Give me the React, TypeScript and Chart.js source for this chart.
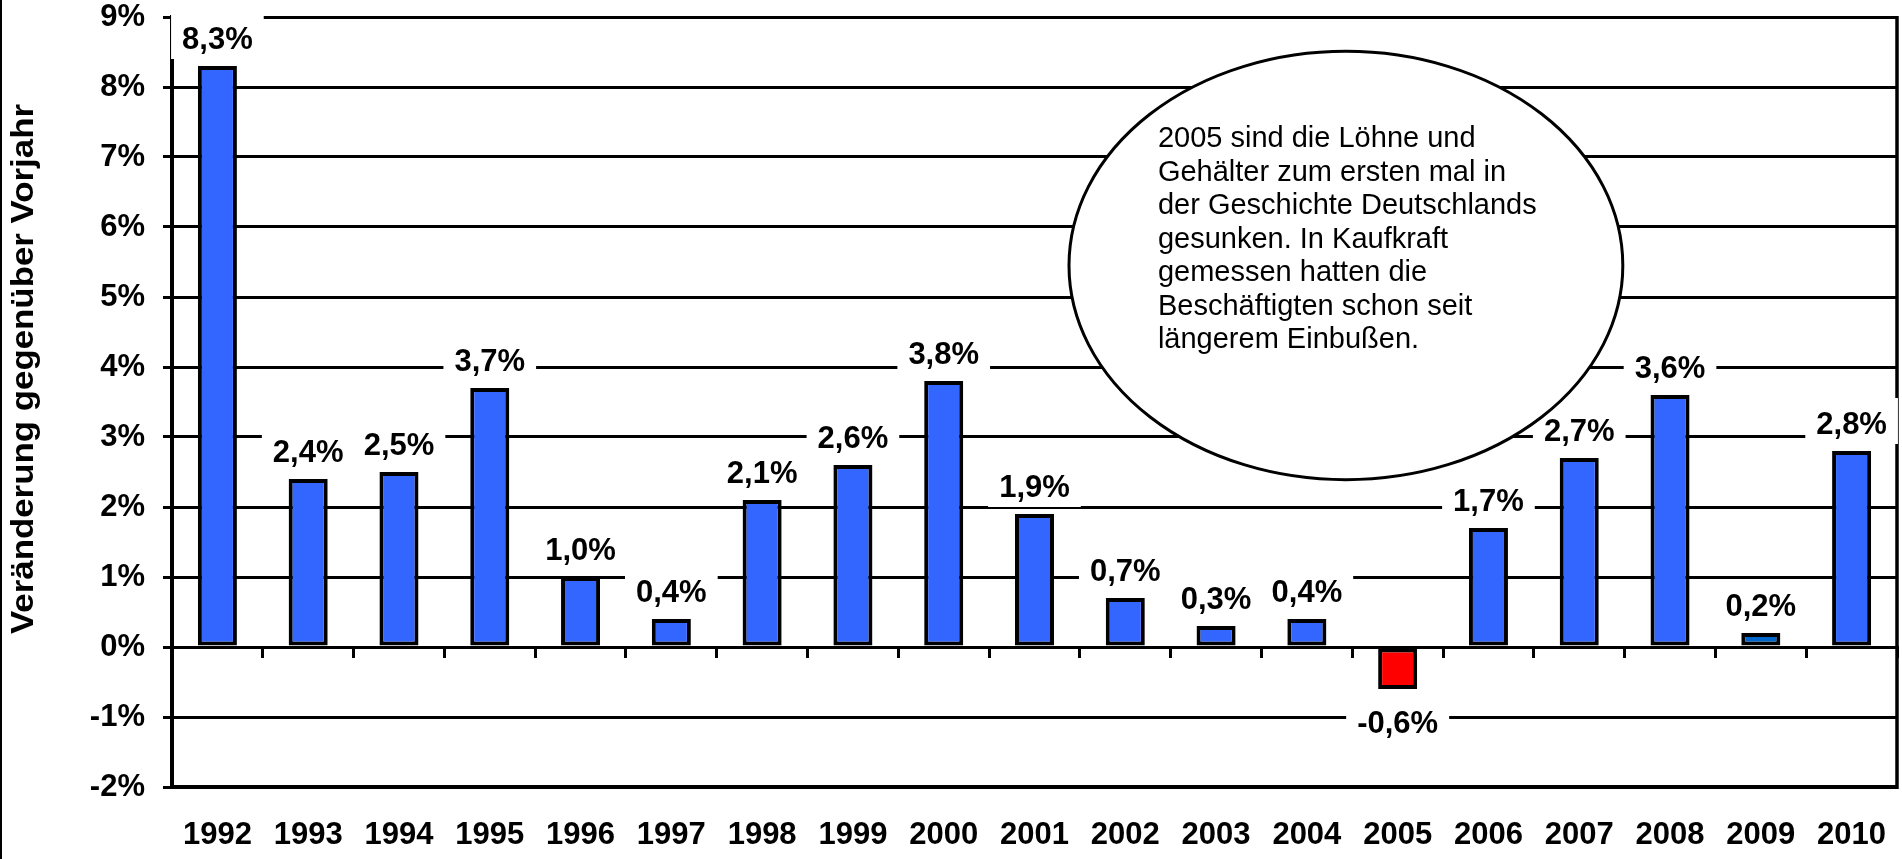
import React, { useEffect, useRef } from 'react';
import { Chart, registerables } from 'chart.js';

Chart.register(...registerables);

// ---- data ----
const years = ['1992', '1993', '1994', '1995', '1996', '1997', '1998', '1999', '2000', '2001', '2002', '2003', '2004', '2005', '2006', '2007', '2008', '2009', '2010'];
const changes = [8.3, 2.4, 2.5, 3.7, 1.0, 0.4, 2.1, 2.6, 3.8, 1.9, 0.7, 0.3, 0.4, -0.6, 1.7, 2.7, 3.6, 0.2, 2.8];
const yMin = -2;
const yMax = 9;
const yAxisTitle = 'Veränderung gegenüber Vorjahr';
const noteLines = [
  '2005 sind die Löhne und',
  'Gehälter zum ersten mal in',
  'der Geschichte Deutschlands',
  'gesunken. In Kaufkraft',
  'gemessen hatten die',
  'Beschäftigten schon seit',
  'längerem Einbußen.',
];
// note ellipse placed in data units (category index, percent)
const noteCenterIndex = 12.43;
const noteCenterValue = 5.45;
const noteRadiusCategories = 3.05;
const noteRadiusPercent = 3.06;

// ---- style ----
const BLUE = '#3366FF';
const highlight: Record<string, string> = { '2005': '#FF0000', '2009': '#0066CC' };
const FONT = '"Liberation Sans", Arial, Helvetica, sans-serif';

const fmt = (v: number) => v.toFixed(1).replace('.', ',') + '%';

const decorPlugin = {
  id: 'decor',
  beforeDatasetsDraw(chart: any) {
    const { ctx, chartArea } = chart;
    ctx.save();
    ctx.strokeStyle = '#000';
    ctx.lineWidth = 3.5;
    ctx.beginPath();
    ctx.moveTo(chartArea.right, chartArea.top - 1);
    ctx.lineTo(chartArea.right, chartArea.bottom + 2);
    ctx.stroke();
    ctx.lineWidth = 2;
    ctx.beginPath();
    ctx.moveTo(1, 0);
    ctx.lineTo(1, chart.height);
    ctx.stroke();
    ctx.restore();
  },
  afterDatasetsDraw(chart: any) {
    const { ctx } = chart;
    const meta = chart.getDatasetMeta(0);
    ctx.save();
    ctx.font = `bold 31px ${FONT}`;
    ctx.textAlign = 'center';
    ctx.textBaseline = 'alphabetic';
    meta.data.forEach((bar: any, i: number) => {
      const v = changes[i];
      const text = fmt(v);
      const w = ctx.measureText(text).width;
      const { x, y } = bar.getProps(['x', 'y'], true);
      const baseline = v >= 0 ? y - 17 : y + 44;
      ctx.fillStyle = '#fff';
      ctx.fillRect(x - w / 2 - 11, baseline - 36, w + 22, 46);
      ctx.fillStyle = '#000';
      ctx.fillText(text, x, baseline);
    });
    ctx.restore();
  },
  afterDraw(chart: any) {
    const { ctx } = chart;
    const xs = chart.scales.x;
    const ys = chart.scales.y;
    const cw = (xs.right - xs.left) / years.length;
    const cx = xs.left + (noteCenterIndex + 0.5) * cw;
    const cy = ys.getPixelForValue(noteCenterValue);
    const rx = noteRadiusCategories * cw;
    const ry = ys.getPixelForValue(0) - ys.getPixelForValue(noteRadiusPercent);
    ctx.save();
    ctx.beginPath();
    ctx.ellipse(cx, cy, rx, ry, 0, 0, Math.PI * 2);
    ctx.fillStyle = '#fff';
    ctx.fill();
    ctx.lineWidth = 3;
    ctx.strokeStyle = '#000';
    ctx.stroke();
    ctx.fillStyle = '#000';
    ctx.font = `29px ${FONT}`;
    ctx.textAlign = 'left';
    ctx.textBaseline = 'alphabetic';
    const textTop = ys.getPixelForValue(noteCenterValue + 1.69);
    noteLines.forEach((line, i) => {
      ctx.fillText(line, cx - 188, textTop + i * 33.5);
    });
    ctx.restore();

    ctx.save();
    ctx.font = `bold 31px ${FONT}`;
    const tw = ctx.measureText(yAxisTitle).width;
    ctx.translate(33, 369);
    ctx.rotate(-Math.PI / 2);
    ctx.scale(530 / tw, 1);
    ctx.fillStyle = '#000';
    ctx.textAlign = 'center';
    ctx.textBaseline = 'alphabetic';
    ctx.fillText(yAxisTitle, 0, 0);
    ctx.restore();
  },
};

export default function App() {
  const ref = useRef<HTMLCanvasElement | null>(null);
  useEffect(() => {
    if (!ref.current) return;
    const chart = new Chart(ref.current, {
      type: 'bar',
      data: {
        labels: years,
        datasets: [
          {
            data: changes,
            backgroundColor: years.map((y) => highlight[y] || BLUE),
            borderColor: '#000',
            borderWidth: 4,
            borderSkipped: false,
            barPercentage: 0.43,
            categoryPercentage: 1,
          },
        ],
      },
      options: {
        animation: false,
        responsive: false,
        maintainAspectRatio: false,
        devicePixelRatio: 1,
        layout: { padding: { top: 17, right: 5, left: 0, bottom: 0 } },
        plugins: { legend: { display: false }, tooltip: { enabled: false }, title: { display: false } },
        scales: {
          x: {
            type: 'category',
            position: 'bottom',
            offset: true,
            grid: { display: false, drawTicks: false },
            border: { display: true, color: '#000', width: 4 },
            ticks: {
              color: '#000',
              font: { family: FONT, size: 31, weight: 'bold', lineHeight: 1.2 },
              padding: 30,
              maxRotation: 0,
              autoSkip: false,
            },
            afterFit: (s: any) => {
              s.height = 72;
              s.paddingLeft = 0;
              s.paddingRight = 0;
            },
          },
          x0: {
            type: 'category',
            labels: years,
            position: { y: 0 },
            offset: true,
            grid: { display: true, drawOnChartArea: false, drawTicks: true, tickLength: 9, offset: true, color: '#000', lineWidth: 3 },
            border: { display: true, color: '#000', width: 3 },
            ticks: { display: false },
            afterFit: (s: any) => {
              s.height = 0;
              s.paddingTop = 0;
              s.paddingBottom = 0;
              s.paddingLeft = 0;
              s.paddingRight = 0;
            },
          },
          y: {
            min: yMin,
            max: yMax,
            grid: { color: '#000', lineWidth: 3, drawTicks: true, tickLength: 9 },
            border: { display: true, color: '#000', width: 4 },
            ticks: {
              stepSize: 1,
              color: '#000',
              padding: 18,
              font: { family: FONT, size: 31, weight: 'bold', lineHeight: 1 },
              callback: (v: any) => v + '%',
            },
            afterFit: (s: any) => {
              s.width = 172;
              s.paddingTop = 0;
              s.paddingBottom = 0;
            },
          },
        },
      },
      plugins: [decorPlugin],
    } as any);
    return () => chart.destroy();
  }, []);
  return (
    <div style={{ position: 'fixed', left: 0, top: 0, width: 1902, height: 859, background: '#fff' }}>
      <canvas ref={ref} width={1902} height={859} style={{ display: 'block' }} />
    </div>
  );
}
